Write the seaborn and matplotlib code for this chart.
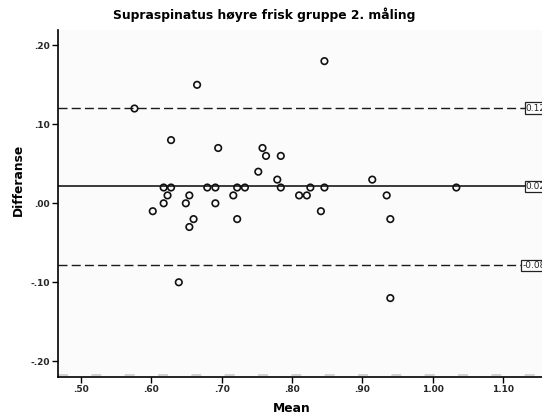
import matplotlib
matplotlib.use("Agg")
import matplotlib.pyplot as plt
import seaborn as sns
import pandas as pd
import numpy as np

# ---- data ----
mean_vals = [0.576, 0.665, 0.628, 0.695, 0.846, 0.758, 0.763, 0.784,
             0.602, 0.6175, 0.6175, 0.628, 0.623, 0.654, 0.649, 0.660, 0.654,
             0.6795, 0.691, 0.691, 0.7165, 0.722, 0.733, 0.722, 0.752, 0.639,
             0.779, 0.784, 0.810, 0.821, 0.826, 0.841, 0.846, 0.914, 0.9345,
             0.9397, 0.9397, 1.0335]
diff_vals = [0.12, 0.15, 0.08, 0.07, 0.18, 0.07, 0.06, 0.06,
             -0.01, 0.00, 0.02, 0.02, 0.01, 0.01, 0.00, -0.02, -0.03,
             0.02, 0.02, 0.00, 0.01, 0.02, 0.02, -0.02, 0.04, -0.10,
             0.03, 0.02, 0.01, 0.01, 0.02, -0.01, 0.02, 0.03, 0.01,
             -0.02, -0.12, 0.02]
ref_lines = [0.1206, 0.0216, -0.0785]
ref_labels = ["0.12", "0.02", "-0.08"]
ref_styles = ["dashed", "solid", "dashed"]
x_ticks = [0.5, 0.6, 0.7, 0.8, 0.9, 1.0, 1.1]
x_tick_labels = [".50", ".60", ".70", ".80", ".90", "1.00", "1.10"]
y_ticks = [0.2, 0.1, 0.0, -0.1, -0.2]
y_tick_labels = [".20", ".10", ".00", "-.10", "-.20"]
title = "Supraspinatus høyre frisk gruppe 2. måling"

df = pd.DataFrame({"Mean": mean_vals, "Differanse": diff_vals})

sns.set_style("white")
plt.rcParams['font.family'] = ['DejaVu Sans']

W, H = 542, 419
fig = plt.figure(figsize=(W / 100, H / 100), dpi=100)
fig.patch.set_facecolor("white")
left_px, right_px, top_px, bot_px = 58, 552, 30, 377
ax = fig.add_axes([left_px / W, (H - bot_px) / H, (right_px - left_px) / W, (bot_px - top_px) / H])
ax.set_facecolor("#fbfbfb")

xmin, xmax = 0.4673, 1.1695
ymin, ymax = -0.2199, 0.2194
ax.set_xlim(xmin, xmax)
ax.set_ylim(ymin, ymax)

# faint dashed line along bottom
ax.axhline(ymin + 0.002, color="#cccccc", lw=1.2, dashes=(6, 14), zorder=1)

for val, lab, st in zip(ref_lines, ref_labels, ref_styles):
    if st == "dashed":
        ax.axhline(val, color="#1a1a1a", lw=1.0, dashes=(6.5, 3.0), zorder=2)
    else:
        ax.axhline(val, color="#1a1a1a", lw=1.2, zorder=2)
    ax.text(1.1605, val, lab, ha="right", va="center", fontsize=6.5,
            color="#222222", zorder=5,
            bbox=dict(boxstyle="square,pad=0.12", fc="white", ec="#222222", lw=0.9))

sns.scatterplot(data=df, x="Mean", y="Differanse", ax=ax, marker="o",
                s=22, facecolor="none", edgecolor="#111111", linewidth=1.2,
                zorder=4, legend=False)

ax.set_xticks(x_ticks)
ax.set_xticklabels(x_tick_labels, fontsize=6.5, fontweight="bold")
ax.set_yticks(y_ticks)
ax.set_yticklabels(y_tick_labels, fontsize=6.5, fontweight="bold")
ax.tick_params(axis="both", direction="out", length=4, width=1, color="black", pad=2, bottom=True, left=True)
ax.set_xlabel("")
ax.set_ylabel("")

for side in ["top", "right"]:
    ax.spines[side].set_visible(False)
for side in ["left", "bottom"]:
    ax.spines[side].set_color("black")
    ax.spines[side].set_linewidth(1.2)

fig.text(264.5 / W, 1 - 15 / H, title, ha="center", va="center", fontsize=8.9, fontweight="bold", color="black")
fig.text(291.7 / W, 1 - 408 / H, "Mean", ha="center", va="center", fontsize=8.8, fontweight="bold", color="black")
fig.text(18 / W, 1 - 180 / H, "Differanse", ha="center", va="center", rotation=90, fontsize=8.8, fontweight="bold", color="black")

fig.savefig("out.png", dpi=100)
